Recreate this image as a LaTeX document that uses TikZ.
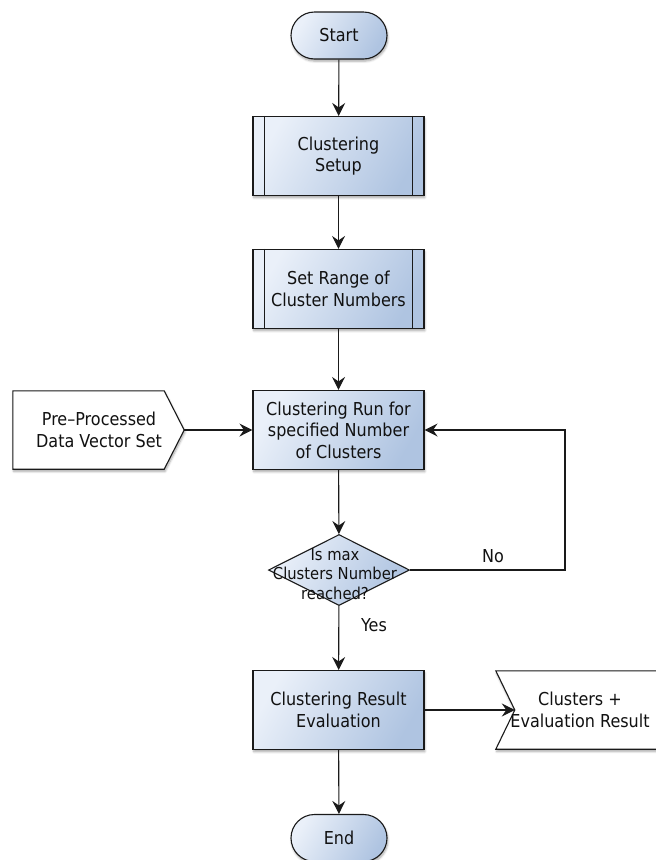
\documentclass[tikz,border=0pt]{standalone}
\usepackage{fontspec}
\setmainfont{DejaVu Sans}[FakeStretch=0.9]
\usetikzlibrary{shapes.geometric,shapes.misc,arrows.meta,shadows.blur,calc}

\definecolor{boxlight}{HTML}{EAF0F9}
\definecolor{boxdark}{HTML}{AFC4E1}
\definecolor{inkline}{HTML}{1A1A1A}
\definecolor{inktext}{HTML}{111111}

\tikzset{
  x=1pt, y=-1pt,
  base/.style={font=\fontsize{17.8}{21.5}\selectfont, text=inktext, align=center, inner sep=0pt},
  softshadow/.style={blur shadow={shadow xshift=0.8pt, shadow yshift=-2.2pt, shadow blur steps=6, shadow opacity=35}},
  filled/.style={draw=inkline, line width=1.1pt, left color=boxlight, right color=boxdark, shading angle=60},
  procbox/.style={base, filled, softshadow, rectangle, minimum width=171pt, minimum height=79pt},
  predef/.style={procbox},
  terminal/.style={base, filled, softshadow, rounded rectangle, minimum width=96pt, minimum height=47pt},
  decision/.style={filled, diamond, minimum width=141pt, minimum height=71pt, inner sep=0pt},
  iotext/.style={base, rectangle, minimum height=78pt},
  ioshape/.style={draw=inkline, line width=1.1pt, fill=white, softshadow},
  flow/.style={draw=inkline, line width=1.1pt, -{Stealth[length=13pt,width=13pt,inset=4.5pt]}},
  lbl/.style={font=\fontsize{17.8}{21}\selectfont, text=inktext, inner sep=0pt}
}

\begin{document}
\begin{tikzpicture}
\useasboundingbox (0,0) rectangle (656,860);

% main column
\node[terminal] (start) at (339,35.5) {Start};
\node[predef] (setup) at (338.5,156) {Clustering\\Setup};
\node[predef] (range) at (338.5,289) {Set Range of\\Cluster Numbers};
\node[procbox] (run) at (338.5,430) {Clustering Run for\\specified Number\\of Clusters};
\node[decision] (dec) at (339,570) {};
\node[font=\fontsize{16.4}{19.5}\selectfont, text=inktext, align=center, inner sep=0pt] (dectext) at (335,574) {Is max\\Clusters Number\\reached?};
\node[procbox] (eval) at (338.5,710) {Clustering Result\\Evaluation};
\node[terminal] (end) at (339,838) {End};

% inner bars of the predefined-process boxes
\foreach \b in {setup,range}{
  \draw[inkline, line width=1pt] ([xshift=12pt]\b.north west) -- ([xshift=12pt]\b.south west);
  \draw[inkline, line width=1pt] ([xshift=-12pt]\b.north east) -- ([xshift=-12pt]\b.south east);
}

% input data (pointed to the right)
\node[iotext, minimum width=171pt] (pre) at (98.5,430) {};
\draw[ioshape] (pre.north west) -- ([xshift=-20pt]pre.north east) -- (pre.east)
  -- ([xshift=-20pt]pre.south east) -- (pre.south west) -- cycle;
\node[base] (pretext) at (99,430) {Pre–Processed\\Data Vector Set};

% output (notched on the left)
\node[iotext, minimum width=176pt] (out) at (584,710) {};
\coordinate (outtip) at ([xshift=19pt]out.west);
\draw[ioshape] (out.north west) -- (out.north east) -- (out.south east)
  -- (out.south west) -- (outtip) -- cycle;
\node[base] (outtext) at (580,710) {Clusters +\\Evaluation Result};

% connectors
\draw[flow] (start) -- (setup);
\draw[flow] (setup) -- (range);
\draw[flow] (range) -- (run);
\draw[flow] (pre.east) -- (run.west);
\draw[flow] (run) -- (dec);
\coordinate (loop) at (565,570);
\draw[flow] (dec.east) -- (loop) |- (run.east);
\draw[flow] (dec) -- (eval);
\draw[flow] (eval.east) -- (outtip);
\draw[flow] (eval) -- (end);

% branch labels
\node[lbl] (nolbl) at (493,556) {No};
\node[lbl] (yeslbl) at (374,625) {Yes};
\end{tikzpicture}
\end{document}
